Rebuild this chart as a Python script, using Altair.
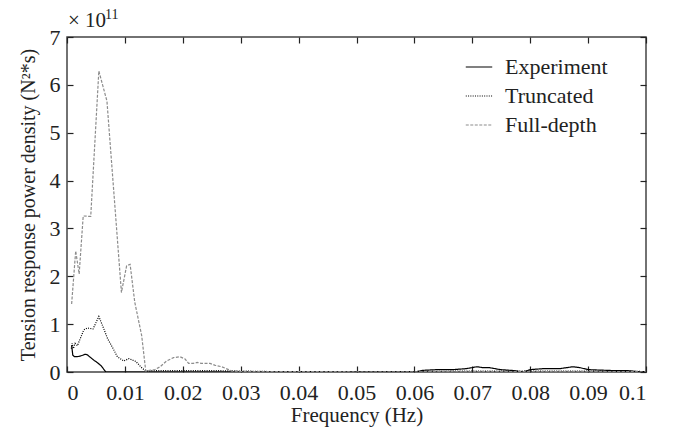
import altair as alt
import pandas as pd

SERIES = ["Experiment", "Truncated", "Full-depth"]

exp_f = [0.0008, 0.0010, 0.0013, 0.0017, 0.0022, 0.0027, 0.0031, 0.0035, 0.0041, 0.0047,
         0.0052, 0.0059, 0.0067, 0.010, 0.020, 0.030, 0.040, 0.050, 0.060, 0.0615,
         0.0639, 0.0667, 0.0690, 0.0708, 0.0719, 0.0730, 0.0748, 0.0771, 0.0788, 0.0800,
         0.0823, 0.0851, 0.0874, 0.0886, 0.0900, 0.0920, 0.0944, 0.0967, 0.0984, 0.1000]
exp_v = [0.56, 0.35, 0.32, 0.32, 0.33, 0.35, 0.37, 0.36, 0.30, 0.24,
         0.20, 0.13, 0.00, 0.00, 0.00, 0.00, 0.00, 0.00, 0.00, 0.035,
         0.05, 0.05, 0.07, 0.11, 0.09, 0.09, 0.05, 0.03, 0.00, 0.05,
         0.07, 0.07, 0.11, 0.09, 0.05, 0.04, 0.03, 0.03, 0.01, 0.01]

tru_f = [0.00075, 0.0009, 0.0011, 0.0014, 0.0018, 0.0023, 0.0029, 0.0035, 0.0045, 0.0055,
         0.0062, 0.0070, 0.0080, 0.0087, 0.0098, 0.0107, 0.0119, 0.0128, 0.0136, 0.0150,
         0.020, 0.025, 0.030, 0.035, 0.040, 0.050, 0.060, 0.070, 0.080, 0.090, 0.100]
tru_v = [0.49, 0.60, 0.49, 0.60, 0.55, 0.70, 0.88, 0.92, 0.90, 1.16,
         0.95, 0.70, 0.48, 0.32, 0.23, 0.28, 0.22, 0.10, 0.02, 0.03,
         0.03, 0.03, 0.02, 0.01, 0.01, 0.01, 0.01, 0.02, 0.02, 0.02, 0.01]

ful_f = [0.0008, 0.0015, 0.0021, 0.0028, 0.0041, 0.0055, 0.0069, 0.0074, 0.0094, 0.0103,
         0.0109, 0.0117, 0.0129, 0.0136, 0.0152, 0.0161, 0.0172, 0.0184, 0.0195, 0.0204,
         0.0210, 0.0218, 0.0225, 0.0232, 0.0247, 0.0256, 0.0267, 0.0279, 0.0285, 0.030,
         0.035, 0.040, 0.050, 0.060, 0.070, 0.080, 0.090, 0.100]
ful_v = [1.42, 2.53, 2.05, 3.26, 3.25, 6.29, 5.66, 4.86, 1.66, 2.22,
         2.25, 1.46, 0.76, 0.02, 0.05, 0.11, 0.23, 0.30, 0.32, 0.27,
         0.18, 0.18, 0.20, 0.18, 0.18, 0.14, 0.11, 0.05, 0.02, 0.01,
         0.01, 0.01, 0.005, 0.005, 0.01, 0.01, 0.01, 0.005]

x_ticks = [0, 0.01, 0.02, 0.03, 0.04, 0.05, 0.06, 0.07, 0.08, 0.09, 0.1]
y_ticks = [0, 1, 2, 3, 4, 5, 6, 7]

rows = []
for name, fs, vs in [("Experiment", exp_f, exp_v), ("Truncated", tru_f, tru_v), ("Full-depth", ful_f, ful_v)]:
    for f, v in zip(fs, vs):
        rows.append({"series": name, "f": f, "v": v})
df = pd.DataFrame(rows)

FONT = "Liberation Serif"
TICK = 6

x_scale = alt.Scale(domain=[0, 0.1], nice=False, zero=False)
y_scale = alt.Scale(domain=[0, 7], nice=False)

leg = alt.Legend(title="", orient="none", legendX=398, legendY=16, symbolType="stroke",
                 symbolSize=700, symbolStrokeWidth=1.2, labelFontSize=22, labelFont=FONT,
                 labelColor="#222222", rowPadding=4, labelOffset=12, padding=0)

color = alt.Color("series:N", scale=alt.Scale(domain=SERIES, range=["#000000", "#000000", "#8c8c8c"]),
                  legend=leg)
dash = alt.StrokeDash("series:N", scale=alt.Scale(domain=SERIES, range=[[1, 0], [1, 1.3], [3, 1.5]]),
                      legend=leg)

base = alt.Chart(df)

lines = base.mark_line(strokeWidth=1.2, clip=True).encode(
    x=alt.X("f:Q", scale=x_scale,
            axis=alt.Axis(orient="bottom", values=x_ticks, format="~g", title="Frequency (Hz)",
                          offset=-TICK, tickSize=TICK, labelPadding=10, titlePadding=1,
                          titleFontSize=21)),
    y=alt.Y("v:Q", scale=y_scale,
            axis=alt.Axis(orient="left", values=y_ticks, format="d",
                          title="Tension response power density (N²*s)",
                          offset=-TICK, tickSize=TICK, labelPadding=7, titlePadding=11,
                          titleFontSize=20)),
    color=color,
    strokeDash=dash,
)

frame = base.mark_line(opacity=0).encode(
    x=alt.X("f:Q", scale=x_scale,
            axis=alt.Axis(orient="top", values=x_ticks, labels=False, title="",
                          offset=-TICK, tickSize=TICK)),
    y=alt.Y("v:Q", scale=y_scale,
            axis=alt.Axis(orient="right", values=y_ticks, labels=False, title="",
                          offset=-TICK, tickSize=TICK)),
)

exp_label = alt.Chart(pd.DataFrame({"t": ["× 10"]})).mark_text(
    align="left", baseline="alphabetic", font=FONT, fontSize=21, color="#222222"
).encode(text="t:N", x=alt.value(1), y=alt.value(-10))

exp_sup = alt.Chart(pd.DataFrame({"t": ["11"]})).mark_text(
    align="left", baseline="alphabetic", font=FONT, fontSize=14, color="#222222"
).encode(text="t:N", x=alt.value(38), y=alt.value(-18))

chart = alt.layer(lines, frame, exp_label, exp_sup).resolve_axis(
    x="independent", y="independent"
).properties(
    width=579, height=335,
    autosize=alt.AutoSizeParams(type="none"),
    padding={"left": 59, "top": 29, "right": 19, "bottom": 59},
    background="white",
).configure_view(
    stroke="#444444", strokeWidth=1.5
).configure_axis(
    domain=False, grid=False, tickColor="#222222", tickWidth=1.2,
    labelFont=FONT, labelFontSize=22, labelColor="#222222",
    titleFont=FONT, titleFontSize=20, titleFontWeight="normal", titleColor="#222222",
)

chart.save("out.html", embed_options={"renderer": "svg", "actions": False})
